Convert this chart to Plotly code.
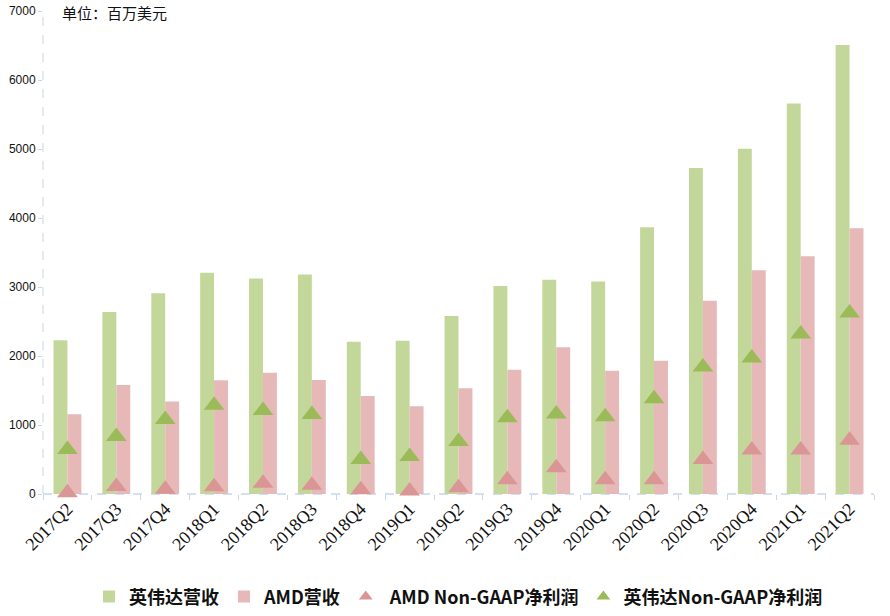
import plotly.graph_objects as go

quarters = ["2017Q2", "2017Q3", "2017Q4", "2018Q1", "2018Q2", "2018Q3", "2018Q4",
            "2019Q1", "2019Q2", "2019Q3", "2019Q4", "2020Q1", "2020Q2", "2020Q3",
            "2020Q4", "2021Q1", "2021Q2"]
nvda_revenue = [2230, 2636, 2911, 3207, 3123, 3181, 2205, 2220, 2579, 3014, 3105,
                3080, 3866, 4726, 5003, 5661, 6507]
amd_revenue = [1155, 1580, 1340, 1647, 1756, 1653, 1419, 1272, 1531, 1801, 2127,
               1786, 1932, 2801, 3244, 3445, 3850]
amd_net_income = [19, 110, 70, 105, 156, 127, 63, 45, 90, 205, 380, 205, 205, 500,
                  636, 636, 778]
nvda_net_income = [645, 833, 1078, 1285, 1210, 1151, 500, 545, 760, 1105, 1160,
                   1120, 1380, 1840, 1970, 2320, 2625]
y_ticks = [0, 1000, 2000, 3000, 4000, 5000, 6000, 7000]

C_NV_BAR = "#c4d79b"
C_AMD_BAR = "#e6b8b7"
C_AMD_TRI = "#da9694"
C_NV_TRI = "#9bbb59"
AXIS = "#c6d6ea"

fig = go.Figure()
fig.add_trace(go.Bar(x=quarters, y=nvda_revenue, name="英伟达营收",
                     marker=dict(color=C_NV_BAR, line=dict(width=0))))
fig.add_trace(go.Bar(x=quarters, y=amd_revenue, name="AMD营收",
                     marker=dict(color=C_AMD_BAR, line=dict(width=0))))
fig.add_trace(go.Scatter(x=quarters, y=amd_net_income, name=" AMD Non-GAAP净利润",
                         mode="markers", cliponaxis=False,
                         marker=dict(symbol="triangle-up", size=18, color=C_AMD_TRI,
                                     line=dict(width=0))))
fig.add_trace(go.Scatter(x=quarters, y=nvda_net_income, name="英伟达Non-GAAP净利润",
                         mode="markers", cliponaxis=False,
                         marker=dict(symbol="triangle-up", size=18, color=C_NV_TRI,
                                     line=dict(width=0))))

fig.update_layout(
    width=890, height=616,
    margin=dict(l=43, r=16, t=11, b=122, autoexpand=False),
    paper_bgcolor="white", plot_bgcolor="white",
    barmode="group", bargap=0.43, bargroupgap=0,
    showlegend=True,
    legend=dict(orientation="h", x=0.5, xanchor="center", y=-0.213, yanchor="middle",
                font=dict(family="Noto Sans CJK SC", size=18, color="#111111",
                          weight="bold"),
                itemwidth=30, itemsizing="constant", traceorder="normal"),
    xaxis=dict(type="category", range=[-0.5, len(quarters) - 0.5], automargin=False,
               showgrid=False, zeroline=False, showline=False,
               tickangle=-45, ticks="outside", tickson="boundaries", ticklen=5,
               tickcolor=AXIS,
               tickfont=dict(family="Liberation Serif", size=18, color="#111111")),
    yaxis=dict(range=[0, 7000], tickvals=y_ticks, automargin=False,
               showgrid=False, zeroline=False,
               showline=False, ticks="outside", ticklen=4, tickcolor=AXIS,
               tickfont=dict(family="Liberation Sans", size=12, color="#111111")),
    shapes=[
        dict(type="line", xref="paper", yref="paper", x0=0, x1=0, y0=0, y1=1,
             line=dict(color=AXIS, width=1, dash="dash"), layer="below"),
        dict(type="line", xref="paper", yref="paper", x0=0, x1=1, y0=0, y1=0,
             line=dict(color=AXIS, width=1.5, dash="dash"), layer="below"),
    ],
    annotations=[
        dict(text="单位：百万美元", xref="paper", yref="paper", x=0.02, y=0.996,
             xanchor="left", yanchor="middle", showarrow=False,
             font=dict(family="Noto Sans CJK SC", size=15, color="#111111")),
    ],
)

fig.write_html("out.html")
